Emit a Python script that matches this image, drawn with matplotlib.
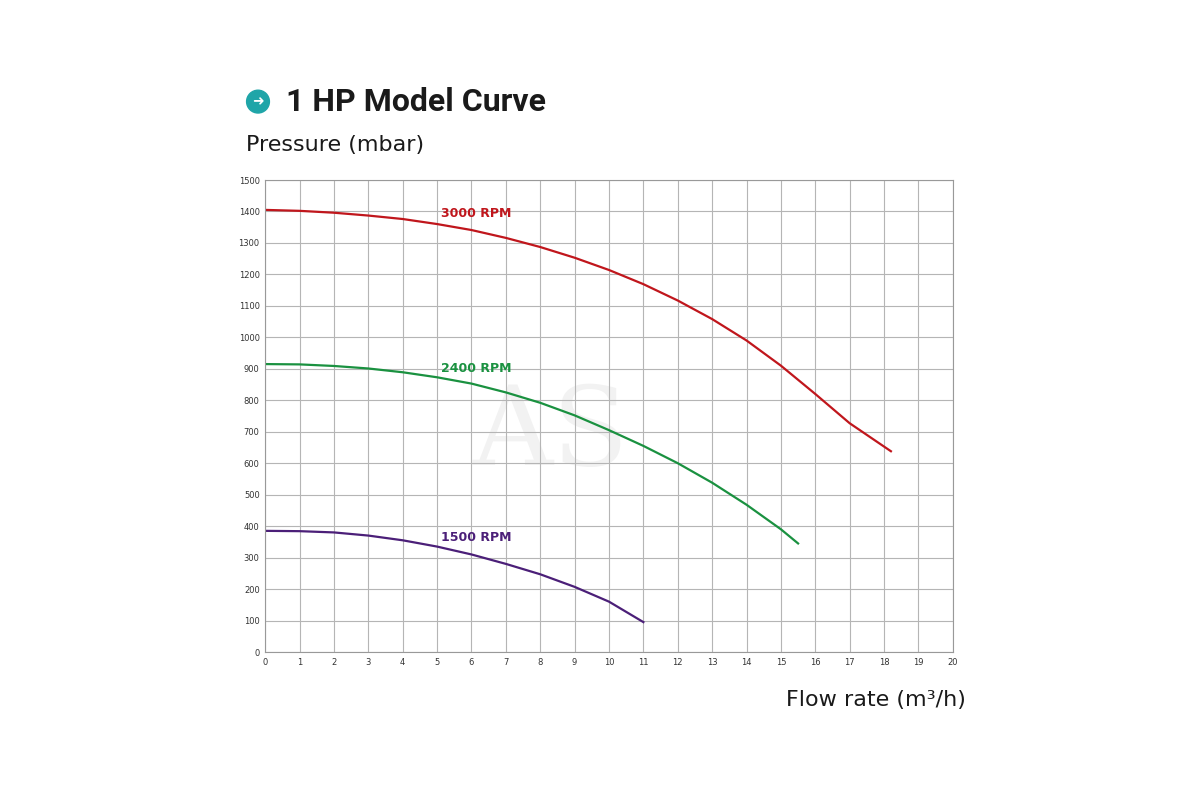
import matplotlib
matplotlib.use('Agg')
from matplotlib import pyplot as plt
from matplotlib.patches import Ellipse

# flow rate (m3/h) vs pressure (mbar)
flow_3000 = [0, 1, 2, 3, 4, 5, 6, 7, 8, 9, 10, 11, 12, 13, 14, 15, 16, 17, 18.2]
press_3000 = [1405, 1402, 1396, 1387, 1376, 1360, 1341, 1316, 1287, 1253, 1214, 1169, 1117, 1058, 990, 910, 820, 727, 638]

flow_2400 = [0, 1, 2, 3, 4, 5, 6, 7, 8, 9, 10, 11, 12, 13, 14, 15, 15.5]
press_2400 = [915, 914, 909, 901, 889, 873, 853, 825, 792, 752, 705, 655, 600, 538, 468, 390, 345]

flow_1500 = [0, 1, 2, 3, 4, 5, 6, 7, 8, 9, 10, 11]
press_1500 = [385, 384, 380, 370, 355, 335, 310, 280, 247, 207, 160, 95]

labels = ['3000 RPM', '2400 RPM', '1500 RPM']
colors = ['#c0161c', '#1a9140', '#4b1f78']
label_pos = [(5.1, 1395), (5.1, 900), (5.1, 365)]

fig = plt.figure(figsize=(12, 8), dpi=100)
ax = fig.add_axes([0.221, 0.185, 0.573, 0.59])

for fx, py, c in zip([flow_3000, flow_2400, flow_1500], [press_3000, press_2400, press_1500], colors):
    ax.plot(fx, py, color=c, lw=1.6)
for lab, (lx, ly), c in zip(labels, label_pos, colors):
    ax.text(lx, ly, lab, color=c, fontsize=9, fontweight='bold', va='center', ha='left')

ax.text(8.3, 690, 'AS', fontsize=80, color='#f2f2f2', ha='center', va='center',
        family='DejaVu Serif', zorder=0)

ax.set_xlim(0, 20)
ax.set_ylim(0, 1500)
ax.set_xticks(range(0, 21))
ax.set_yticks(range(0, 1501, 100))
ax.tick_params(labelsize=6, length=0, colors='#333333', pad=4)
ax.grid(True, color='#b5b5b5', lw=0.8)
for s in ax.spines.values():
    s.set_color('#999999')
    s.set_linewidth(0.8)

fig.patches.append(Ellipse((0.215, 0.873), 0.019, 0.0285, transform=fig.transFigure,
                           color='#1fa5a8', figure=fig))
fig.text(0.215, 0.873, '➜', color='white', fontsize=10, ha='center', va='center', fontweight='bold')
fig.text(0.238, 0.873, '1 HP Model Curve', fontsize=23, fontweight='bold', va='center',
         color='#1a1a1a', family='Roboto')
fig.text(0.205, 0.819, 'Pressure (mbar)', fontsize=16, va='center', color='#1a1a1a')
fig.text(0.805, 0.125, 'Flow rate (m³/h)', fontsize=16, va='center', ha='right', color='#1a1a1a')

fig.savefig('out.png', dpi=100)
